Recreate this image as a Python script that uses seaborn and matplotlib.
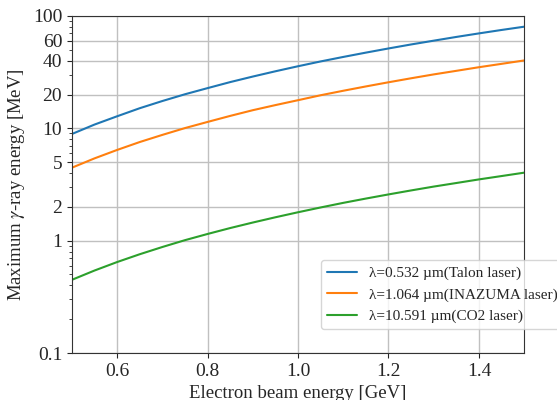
import numpy as np
import pandas as pd
import matplotlib
matplotlib.use("Agg")
import matplotlib.pyplot as plt
import matplotlib.ticker as mticker
import seaborn as sns

# values
beam_energy = [0.50, 0.55, 0.60, 0.65, 0.70, 0.75, 0.80, 0.85, 0.90, 0.95, 1.00,
               1.05, 1.10, 1.15, 1.20, 1.25, 1.30, 1.35, 1.40, 1.45, 1.50]
e_talon   = [8.9, 10.8, 12.8, 15.1, 17.5, 20.1, 22.8, 25.8, 28.9, 32.2, 35.7,
             39.4, 43.2, 47.2, 51.4, 55.8, 60.3, 65.1, 70.0, 75.1, 80.3]
e_inazuma = [4.46, 5.4, 6.42, 7.55, 8.74, 10.05, 11.4, 12.9, 14.5, 16.1, 17.8,
             19.7, 21.6, 23.6, 25.7, 27.9, 30.2, 32.5, 35.0, 37.5, 40.2]
e_co2     = [0.448, 0.542, 0.645, 0.757, 0.878, 1.01, 1.147, 1.295, 1.45, 1.615, 1.79,
             1.975, 2.17, 2.37, 2.58, 2.80, 3.03, 3.26, 3.51, 3.76, 4.03]
labels = ["λ=0.532 µm(Talon laser)",
          "λ=1.064 µm(INAZUMA laser)",
          "λ=10.591 µm(CO2 laser)"]
y_ticks = [0.1, 1, 2, 5, 10, 20, 40, 60, 100]
x_ticks = [0.6, 0.8, 1.0, 1.2, 1.4]

df = pd.concat([
    pd.DataFrame({"E_beam": beam_energy, "E_gamma": vals, "laser": lab})
    for vals, lab in zip([e_talon, e_inazuma, e_co2], labels)
])

sns.set_style("ticks")
plt.rcParams["font.family"] = ["Liberation Serif", "DejaVu Serif"]
plt.rcParams["mathtext.fontset"] = "stix"

fig = plt.figure(figsize=(5.57, 4.0), dpi=100)
ax = fig.add_axes([0.129, 0.1175, 0.812, 0.8425])

sns.lineplot(data=df, x="E_beam", y="E_gamma", hue="laser",
             palette=["#1f77b4", "#ff7f0e", "#2ca02c"], linewidth=1.5, ax=ax)

ax.set_yscale("log")
ax.set_xlim(0.5, 1.5)
ax.set_ylim(0.1, 100)
ax.set_xticks(x_ticks)
ax.set_xticklabels([f"{t:.1f}" for t in x_ticks])
ax.yaxis.set_major_locator(mticker.FixedLocator(y_ticks))
ax.yaxis.set_major_formatter(mticker.FixedFormatter([f"{t:g}" for t in y_ticks]))
ax.yaxis.set_minor_locator(mticker.LogLocator(base=10, subs=np.arange(2, 10)))
ax.yaxis.set_minor_formatter(mticker.NullFormatter())
ax.tick_params(axis="both", labelsize=14)
ax.grid(True, which="major", color="#c0c0c0", linewidth=1)

for s in ax.spines.values():
    s.set_visible(True)
    s.set_color("#333333")

ax.set_xlabel("Electron beam energy [GeV]", fontsize=13.5)
ax.set_ylabel(r"Maximum $\gamma$-ray energy [MeV]", fontsize=13.5)

ax.legend(loc="lower left", bbox_to_anchor=(0.533, 0.048), fontsize=11,
          title=None)

fig.savefig("out.png", dpi=100)
